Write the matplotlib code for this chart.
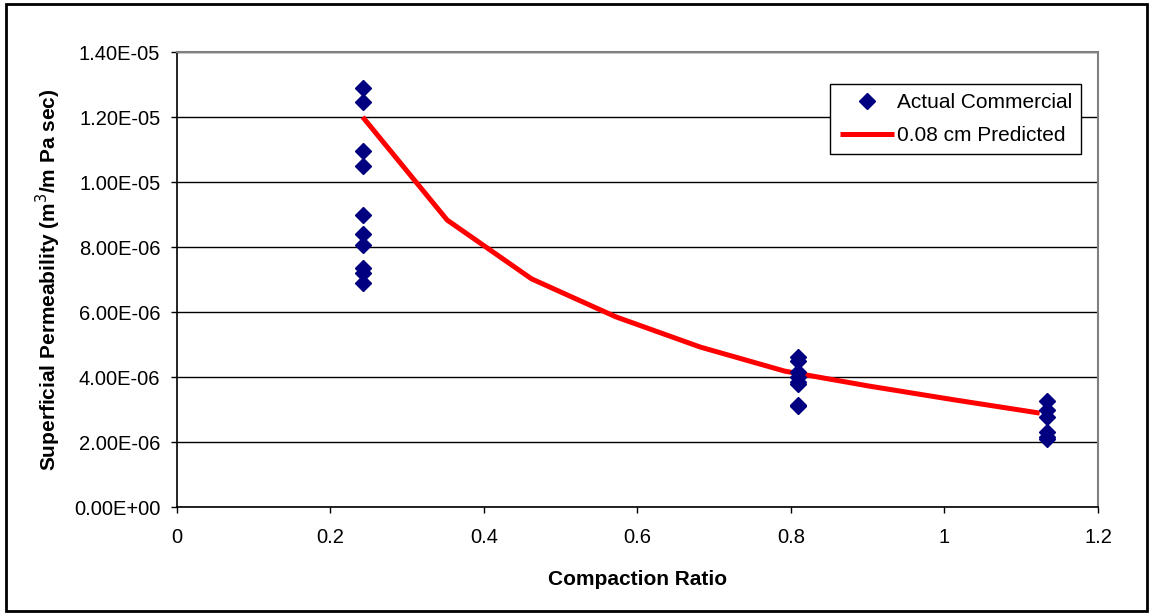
import matplotlib
matplotlib.use('Agg')
import matplotlib.pyplot as plt
from matplotlib.ticker import FuncFormatter, MultipleLocator
from matplotlib.patches import Rectangle

# measured permeability of commercial samples at three compaction ratios
actual_x = [0.242] * 10 + [0.809] * 8 + [1.134] * 6
actual_y = [12.9e-6, 12.45e-6, 10.95e-6, 10.5e-6, 9.0e-6, 8.4e-6, 8.05e-6, 7.35e-6, 7.2e-6, 6.88e-6,
            4.62e-6, 4.5e-6, 4.15e-6, 4.0e-6, 3.85e-6, 3.78e-6, 3.15e-6, 3.12e-6,
            3.27e-6, 3.0e-6, 2.78e-6, 2.3e-6, 2.15e-6, 2.08e-6]

# model curve for 0.08 cm particles
pred_x = [0.242, 0.352, 0.462, 0.572, 0.682, 0.792, 0.902, 1.012, 1.124]
pred_y = [12.0e-6, 8.83e-6, 7.02e-6, 5.85e-6, 4.92e-6, 4.18e-6, 3.72e-6, 3.30e-6, 2.89e-6]

plt.rcParams['font.family'] = ['Liberation Sans', 'DejaVu Sans']

fig = plt.figure(figsize=(11.53, 6.15), dpi=100)
ax = fig.add_axes([0.1535, 0.1756, 0.7988, 0.7398])

ax.plot(pred_x, pred_y, color='#ff0000', lw=3.6, solid_capstyle='butt',
        label='0.08 cm Predicted', zorder=3)
ax.plot(actual_x, actual_y, 'D', color='#000080', ms=8, mec='#000080',
        label='Actual Commercial', linestyle='none', zorder=4)

ax.set_xlim(0, 1.2)
ax.set_ylim(0, 1.4e-5)
ax.xaxis.set_major_locator(MultipleLocator(0.2))
ax.yaxis.set_major_locator(MultipleLocator(2e-6))
ax.yaxis.set_major_formatter(FuncFormatter(lambda v, p: '{:.2E}'.format(v)))
ax.xaxis.set_major_formatter(FuncFormatter(lambda v, p: '{:g}'.format(round(v, 1))))
ax.tick_params(labelsize=14.5, direction='out', length=4, width=1)
ax.tick_params(axis='x', pad=11)
ax.tick_params(axis='y', pad=8)

ax.yaxis.grid(True, color='black', lw=1)
ax.set_axisbelow(True)
for side in ['top', 'right']:
    ax.spines[side].set_color('#808080')
    ax.spines[side].set_linewidth(1.5)
for side in ['left', 'bottom']:
    ax.spines[side].set_color('black')
    ax.spines[side].set_linewidth(1.2)

ax.set_xlabel('Compaction Ratio', fontsize=15, fontweight='bold', labelpad=17)
ax.set_ylabel('Superficial Permeability (m$^3$/m Pa sec)', fontsize=15,
              fontweight='bold', labelpad=8)

handles, labels = ax.get_legend_handles_labels()
leg = ax.legend(handles[::-1], labels[::-1], loc='upper right',
                bbox_to_anchor=(0.982, 0.93), fontsize=15, frameon=True,
                fancybox=False, edgecolor='black', framealpha=1,
                handlelength=2.6, handletextpad=0.15, borderpad=0.45,
                labelspacing=0.65, borderaxespad=0)
leg.get_frame().set_linewidth(1)

# outer frame around the whole chart
fig.patches.append(Rectangle((6 / 1153, 4 / 615), 1141 / 1153, 607 / 615,
                             transform=fig.transFigure, fill=False,
                             edgecolor='black', lw=2))

fig.savefig('out.png', dpi=100)
